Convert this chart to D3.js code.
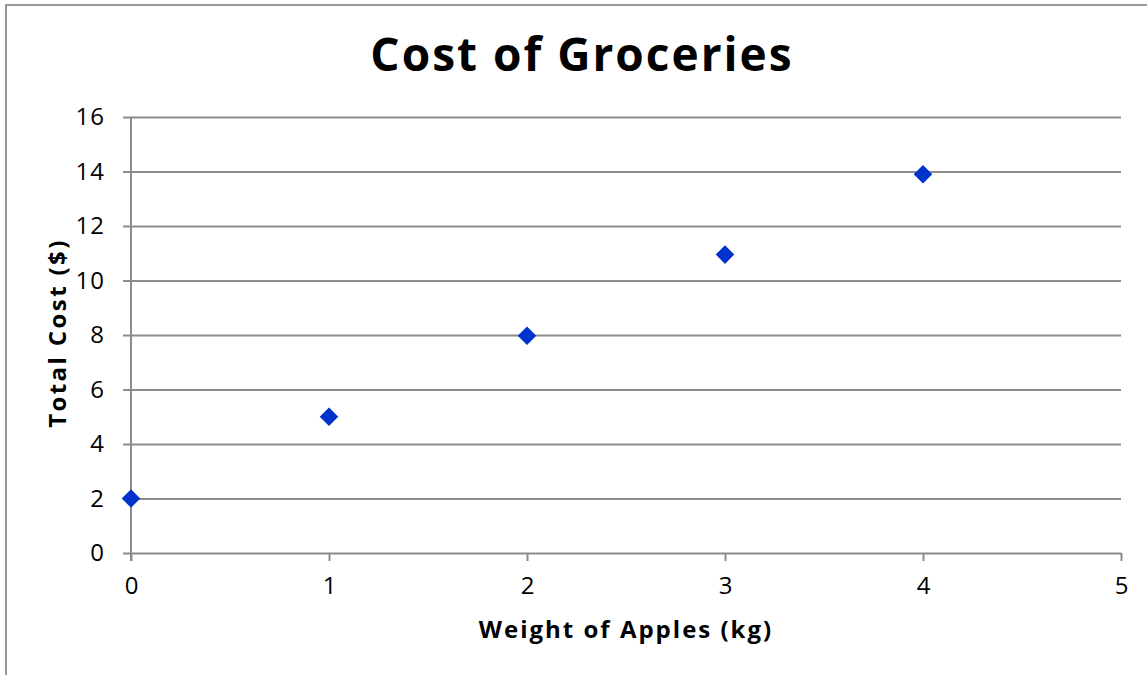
<!DOCTYPE html>
<html>
<head>
<meta charset="utf-8">
<script src="https://cdn.jsdelivr.net/npm/d3@7"></script>
<style>
  body { margin: 0; background: #fff; }
  svg { display: block; font-family: "Open Sans", sans-serif; }
</style>
</head>
<body>
<div id="main"></div>
<script>
const WIDTH = 1147, HEIGHT = 675;

// data
const weights = [0, 1, 2, 3, 4];
const costs = [2, 5, 7.97, 10.95, 13.9];
const yTicks = [0, 2, 4, 6, 8, 10, 12, 14, 16];
const xTicks = [0, 1, 2, 3, 4, 5];

const margin = { left: 131, top: 117, right: 26, bottom: 122 };
const GRID = "#8c8c8c";
const FONT = "'Open Sans', sans-serif";

const svg = d3.select("#main").append("svg")
    .attr("width", WIDTH)
    .attr("height", HEIGHT);

// outer chart border (only left and top visible)
svg.append("rect")
    .attr("x", 6).attr("y", 5)
    .attr("width", WIDTH + 20).attr("height", HEIGHT + 20)
    .attr("fill", "none").attr("stroke", "#999").attr("stroke-width", 2);

const x = d3.scaleLinear().domain([0, 5]).range([margin.left, WIDTH - margin.right]);
const y = d3.scaleLinear().domain([0, 16]).range([HEIGHT - margin.bottom, margin.top]);

// horizontal gridlines + y axis
const yAxis = d3.axisLeft(y)
    .tickValues(yTicks)
    .tickFormat(d3.format("d"))
    .tickSize(-(x.range()[1] - x.range()[0]))
    .tickSizeOuter(0);
const gy = svg.append("g").attr("transform", `translate(${margin.left},0)`).call(yAxis)
    .attr("font-family", FONT);
gy.select(".domain").attr("stroke", GRID).attr("stroke-width", 2)
    .attr("d", `M0,${y(16)}V${y(0) + 8}`);
gy.selectAll(".tick line").attr("stroke", GRID).attr("stroke-width", 2).attr("x1", -8);
gy.selectAll(".tick text").attr("font-size", 24).attr("fill", "#000")
    .attr("x", -26).attr("letter-spacing", 1);

// x axis
const xAxis = d3.axisBottom(x)
    .tickValues(xTicks)
    .tickFormat(d3.format("d"))
    .tickSize(8)
    .tickSizeOuter(0)
    .tickPadding(16);
const gx = svg.append("g").attr("transform", `translate(0,${y(0)})`).call(xAxis)
    .attr("font-family", FONT);
gx.select(".domain").remove();
gx.selectAll(".tick line").attr("stroke", GRID).attr("stroke-width", 2);
gx.selectAll(".tick text").attr("font-size", 24).attr("fill", "#000");

// points
svg.append("g").selectAll("path")
    .data(weights.map((w, i) => ({ w, c: costs[i] })))
    .enter()
    .append("path")
    .attr("d", d3.symbol().type(d3.symbolDiamond2).size(220))
    .attr("transform", d => `translate(${x(d.w)},${y(d.c)})`)
    .attr("fill", "#0033cc");

// title and axis labels
svg.append("text")
    .attr("x", 582).attr("y", 71)
    .attr("text-anchor", "middle")
    .attr("font-size", 46).attr("font-weight", 700)
    .attr("letter-spacing", 2)
    .text("Cost of Groceries");

svg.append("text")
    .attr("x", 626).attr("y", 638)
    .attr("text-anchor", "middle")
    .attr("font-size", 24).attr("font-weight", 700)
    .attr("letter-spacing", 2)
    .text("Weight of Apples (kg)");

svg.append("text")
    .attr("transform", "translate(66,333) rotate(-90)")
    .attr("text-anchor", "middle")
    .attr("font-size", 24).attr("font-weight", 700)
    .attr("letter-spacing", 2.4)
    .text("Total Cost ($)");
</script>
</body>
</html>
